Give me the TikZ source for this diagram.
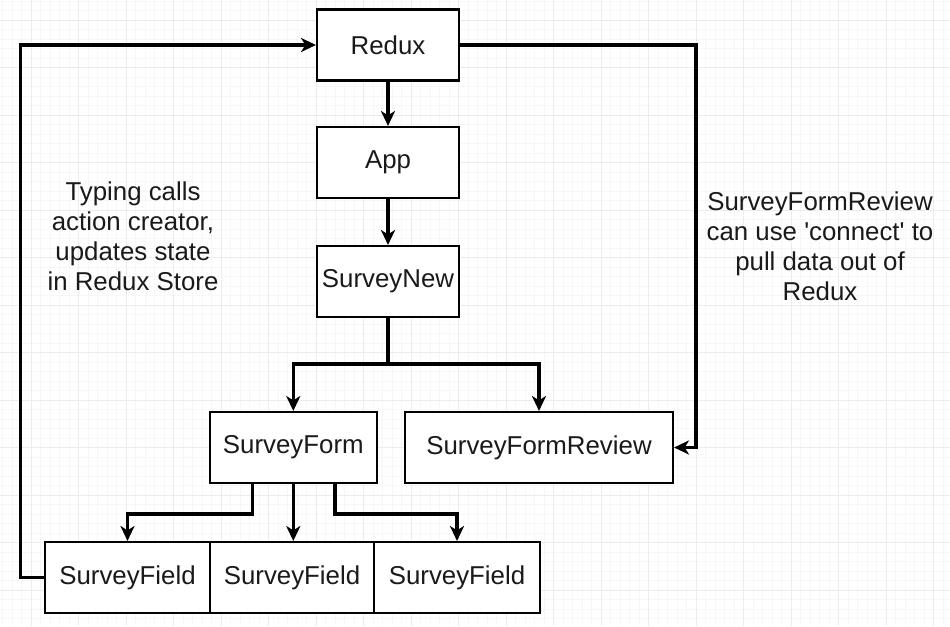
\documentclass[tikz,border=0pt]{standalone}
\usepackage{fontspec}
\setmainfont{Liberation Sans}
\usetikzlibrary{arrows.meta}

\definecolor{gridmin}{HTML}{F7F7F7}
\definecolor{gridmaj}{HTML}{ECECEC}
\definecolor{txt}{HTML}{1A1A1A}

\begin{document}
\begin{tikzpicture}[x=0.2mm, y=-0.2mm,
    box/.style={draw=black, line width=1.2pt, fill=white, inner sep=0pt,
        minimum height=14.2mm, text=txt,
        font=\fontsize{14.7}{17}\selectfont},
    conn/.style={line width=1.8pt, -{Stealth[length=8.5pt, width=8pt, inset=2.5pt]}},
    note/.style={align=center, text=txt, font=\fontsize{14.7}{17}\selectfont}]
    \useasboundingbox (0,0) rectangle (950,626);
    \fill[white] (0,0) rectangle (950,626);

    % Raster
    \foreach \gx in {0,...,99}
        \draw[gridmin, line width=0.4pt] ({2.5+9.5*\gx},0) -- ++(0,626);
    \foreach \gy in {0,...,65}
        \draw[gridmin, line width=0.4pt] (0,{1+9.5*\gy}) -- ++(950,0);
    \foreach \gx in {0,...,19}
        \draw[gridmaj, line width=0.5pt] ({31+47.5*\gx},0) -- ++(0,626);
    \foreach \gy in {0,...,12}
        \draw[gridmaj, line width=0.5pt] (0,{20+47.5*\gy}) -- ++(950,0);

    % Komponenten
    \node[box, minimum width=28.4mm] (redux) at (388,45) {Redux};
    \node[box, minimum width=28.4mm] (app) at (388,162.5) {App};
    \node[box, minimum width=28.4mm] (snew) at (388,281.5) {SurveyNew};
    \node[box, minimum width=33.4mm] (sform) at (293.3,447.5) {SurveyForm};
    \node[box, minimum width=53.6mm] (sfr) at (539,447.5) {SurveyFormReview};
    \node[box, minimum width=33mm] (f1) at (127.5,577.5) {SurveyField};
    \node[box, minimum width=32.8mm] (f2) at (292,577.5) {SurveyField};
    \node[box, minimum width=33.2mm] (f3) at (457,577.5) {SurveyField};

    % Pfeile
    \draw[conn] (redux) -- (app);
    \draw[conn] (app) -- (snew);
    \coordinate (split) at (388,364);
    \draw[conn] (snew.south) -- (split) -| (sform.north);
    \draw[conn] (split) -| (sfr.north);
    \draw[conn] ([shift={(-40.6,0)}]sform.south) -- ++(0,30) -| (f1.north);
    \draw[conn] (sform.south) -- (sform.south |- f2.north);
    \draw[conn] ([shift={(41.7,0)}]sform.south) -- ++(0,30) -| (f3.north);
    \draw[conn] (redux.east) -- ++(236,0) |- (sfr.east);
    \draw[conn] (f1.west) -- ++(-23.3,0) |- (redux.west);

    % Hinweise
    \node[note] (typing) at (133,236)
        {Typing calls\\action creator,\\updates state\\in Redux Store};
    \node[note] (review) at (820,246)
        {SurveyFormReview\\can use \textquotesingle connect\textquotesingle{} to\\pull data out of\\Redux};
\end{tikzpicture}
\end{document}
